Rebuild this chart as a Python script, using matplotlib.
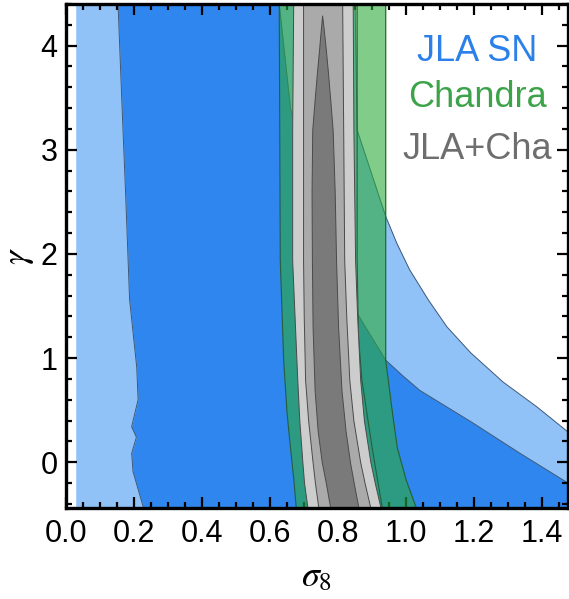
import matplotlib
matplotlib.use("Agg")
import matplotlib.pyplot as plt
from matplotlib.ticker import MultipleLocator

plt.rcParams['font.family'] = ['Liberation Sans', 'DejaVu Sans']
plt.rcParams['mathtext.fontset'] = 'stix'

# ---------------- data (contour boundaries) ----------------
# JLA SN 2-sigma (light blue)
sn2_y      = [-0.44, 0.0, 0.29, 0.53, 0.77, 1.05, 1.30, 1.56, 1.85, 2.1, 2.36, 3.19, 4.4]
sn2_left   = [0.03] * 13
sn2_right  = [1.75, 1.6, 1.476, 1.385, 1.285, 1.19, 1.12, 1.065, 1.01, 0.973, 0.94, 0.856, 0.85]

# JLA SN 1-sigma (dark blue)
sn1l_y     = [-0.44, -0.09, 0.085, 0.24, 0.34, 0.6, 0.91, 1.56, 2.6, 3.48, 4.4]
sn1_left   = [0.228, 0.197, 0.193, 0.207, 0.193, 0.212, 0.208, 0.187, 0.175, 0.164, 0.153]
sn1r_y     = [-0.44, -0.2, 0.085, 0.39, 0.69, 0.83, 0.98, 1.43, 1.9, 2.4, 3.0, 3.4, 4.4]
sn1_right  = [1.6, 1.476, 1.335, 1.19, 1.04, 0.99, 0.94, 0.856, 0.79, 0.74, 0.69, 0.66, 0.627]

# Chandra 2-sigma
ch2_y      = [-0.44, -0.17, 0.14, 0.47, 0.98, 1.94, 4.4]
ch2_left   = [0.677, 0.67, 0.66, 0.65, 0.64, 0.63, 0.627]
ch2_right  = [1.03, 1.0, 0.974, 0.96, 0.94, 0.94, 0.94]

# Chandra 1-sigma
ch1_y      = [-0.44, 0.14, 0.79, 1.2, 1.94, 4.4]
ch1_left   = [0.72, 0.70, 0.69, 0.685, 0.675, 0.675]
ch1_right  = [0.93, 0.9, 0.87, 0.86, 0.856, 0.856]

# JLA + Chandra (3, 2, 1 sigma)
jc3_y      = [-0.44, -0.2, 0.0, 0.4, 0.79, 1.4, 1.94, 3.19, 4.4]
jc3_left   = [0.71, 0.70, 0.695, 0.686, 0.68, 0.672, 0.665, 0.665, 0.668]
jc3_right  = [0.925, 0.908, 0.895, 0.876, 0.865, 0.856, 0.85, 0.845, 0.843]

jc2_y      = [-0.44, -0.2, 0.0, 0.4, 0.79, 1.4, 1.94, 3.19, 4.4]
jc2_left   = [0.742, 0.732, 0.725, 0.712, 0.703, 0.699, 0.697, 0.697, 0.697]
jc2_right  = [0.895, 0.878, 0.865, 0.845, 0.833, 0.824, 0.818, 0.815, 0.812]

jc1_y      = [-0.44, -0.2, 0.0, 0.3, 0.69, 1.3, 1.94, 2.6, 3.19, 3.48, 3.75, 3.96, 4.15, 4.29]
jc1_left   = [0.777, 0.764, 0.752, 0.74, 0.731, 0.725, 0.723, 0.722, 0.724, 0.731, 0.738, 0.744, 0.749, 0.753]
jc1_right  = [0.86, 0.846, 0.835, 0.822, 0.81, 0.8, 0.794, 0.79, 0.784, 0.777, 0.77, 0.764, 0.758, 0.753]

labels       = ["JLA SN", "Chandra", "JLA+Cha"]
label_colors = ["#2b80ea", "#3da34a", "#6e6e6e"]

x_ticks = [0.0, 0.2, 0.4, 0.6, 0.8, 1.0, 1.2, 1.4]
y_ticks = [0, 1, 2, 3, 4]

# ---------------- plot ----------------
fig = plt.figure(figsize=(5.69, 5.99), dpi=100)
ax = fig.add_axes([66/569, 1-508/599, (568-66)/569, (508-4)/599])

edge_blue = "#3d5878"
ax.fill_betweenx(sn2_y, sn2_left, sn2_right, color="#90c2f8", lw=0, zorder=1)
ax.fill_betweenx(sn1l_y, sn1_left, [1.6]*len(sn1l_y), color="#2e86ee", lw=0, zorder=1.2)
# dark blue ends at its right boundary; light blue / white beyond
ax.fill_betweenx(sn1r_y, sn1_right, [2.0]*len(sn1r_y), color="#90c2f8", lw=0, zorder=1.3)
ax.fill_betweenx(sn2_y, sn2_right, [2.0]*len(sn2_y), color="white", lw=0, zorder=1.4)
ax.plot(sn1_left, sn1l_y, color=edge_blue, lw=0.7, zorder=1.5)
ax.plot(sn1_right, sn1r_y, color=edge_blue, lw=0.7, zorder=1.5)
ax.plot(sn2_right, sn2_y, color=edge_blue, lw=0.7, zorder=1.5)

green = (43/255, 170/255, 57/255)
edge_green = "#24603a"
ax.fill_betweenx(ch2_y, ch2_left, ch2_right, color=green, alpha=0.6, lw=0, zorder=2)
ax.plot(ch2_left, ch2_y, color=edge_green, lw=0.8, zorder=2.1)
ax.plot(ch2_right, ch2_y, color=edge_green, lw=0.8, zorder=2.1)
ax.plot(ch1_left, ch1_y, color=edge_green, lw=0.8, zorder=2.1)
ax.plot(ch1_right, ch1_y, color=edge_green, lw=0.8, zorder=2.1)

edge_gray = "#4a4a4a"
ax.fill_betweenx(jc3_y, jc3_left, jc3_right, facecolor="#cdcdcd", edgecolor=edge_gray, lw=0.7, zorder=3)
ax.fill_betweenx(jc2_y, jc2_left, jc2_right, facecolor="#aaaaaa", edgecolor=edge_gray, lw=0.7, zorder=3.1)
ax.fill_betweenx(jc1_y, jc1_left, jc1_right, facecolor="#7a7a7a", edgecolor=edge_gray, lw=0.7, zorder=3.2)

for i, (t, c) in enumerate(zip(labels, label_colors)):
    ax.text(1.209, [3.94, 3.5, 3.0][i], t, color=c, fontsize=26, ha="center", va="center", zorder=5)

ax.set_xlim(0, 1.476)
ax.set_ylim(-0.44, 4.4)
ax.set_xticks(x_ticks)
ax.set_yticks(y_ticks)
ax.set_xticklabels([f"{v:.1f}" for v in x_ticks])
ax.set_yticklabels([str(v) for v in y_ticks])
ax.xaxis.set_minor_locator(MultipleLocator(0.05))
ax.yaxis.set_minor_locator(MultipleLocator(0.2))
ax.tick_params(which="both", direction="in", top=True, right=True, width=1.6, labelsize=22)
ax.tick_params(which="major", length=8)
ax.tick_params(which="minor", length=4.5)
ax.tick_params(axis="x", which="major", pad=8)
ax.tick_params(axis="y", which="major", pad=6)
for s in ax.spines.values():
    s.set_linewidth(2.4)
    s.set_zorder(10)

ax.set_xlabel(r"$\sigma_8$", fontsize=26, labelpad=7)
ax.set_ylabel(r"$\gamma$", fontsize=26, labelpad=3, rotation=90)

fig.savefig("out.png", dpi=100)
